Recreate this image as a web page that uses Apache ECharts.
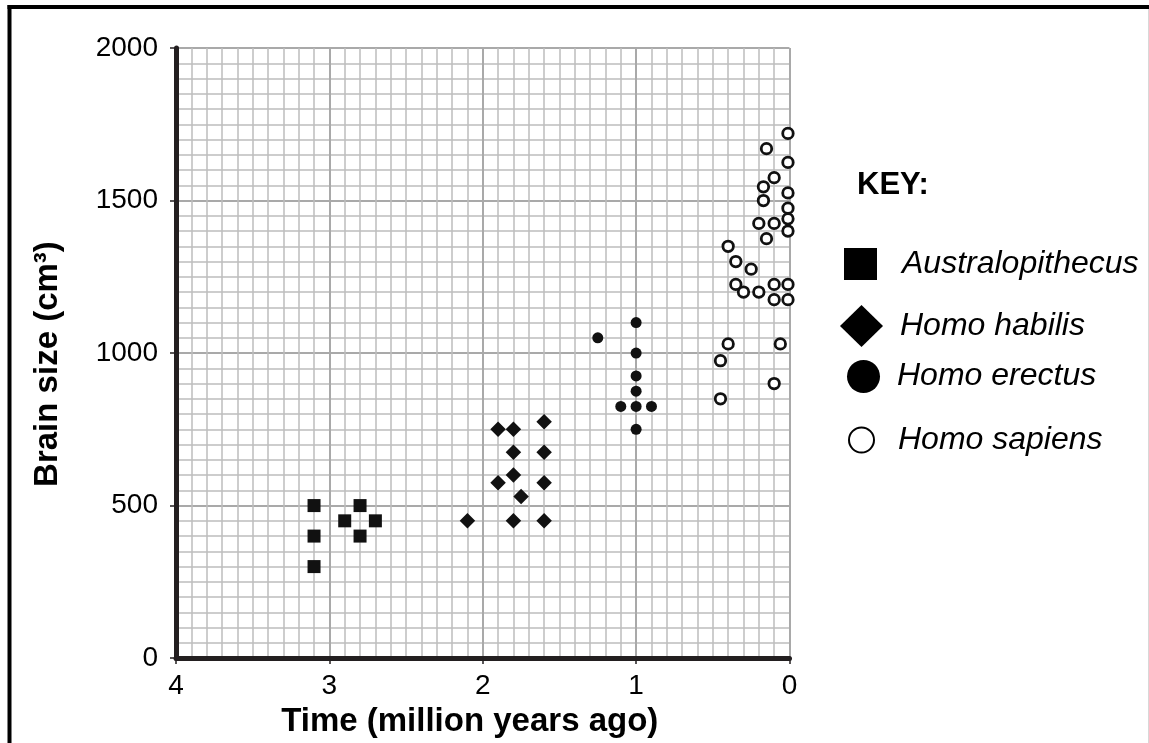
<!DOCTYPE html>
<html><head><meta charset="utf-8">
<script src="https://cdn.jsdelivr.net/npm/echarts@6/dist/echarts.min.js"></script>
<style>html,body{margin:0;padding:0;background:#fff}#c{width:1149px;height:743px}</style>
</head><body><div id="c"></div>
<script>
const seriesNames = ['Australopithecus', 'Homo habilis', 'Homo erectus', 'Homo sapiens'];
const xTickLabels = [4, 3, 2, 1, 0];
const yTickLabels = [0, 500, 1000, 1500, 2000];
// [time (million years ago), brain size (cm3)]
const australopithecus = [[3.1,500],[3.1,400],[3.1,300],[2.9,450],[2.8,500],[2.8,400],[2.7,450]];
const homoHabilis = [[2.1,450],[1.9,750],[1.8,750],[1.6,775],[1.8,675],[1.6,675],[1.8,600],[1.9,575],[1.6,575],[1.75,530],[1.8,450],[1.6,450]];
const homoErectus = [[1.25,1050],[1.0,1100],[1.0,1000],[1.0,925],[1.0,875],[1.1,825],[1.0,825],[0.9,825],[1.0,750]];
const homoSapiens = [[0.01,1720],[0.15,1670],[0.01,1625],[0.1,1575],[0.17,1545],[0.01,1525],[0.17,1500],[0.01,1475],[0.01,1440],[0.2,1425],[0.1,1425],[0.01,1400],[0.15,1375],[0.4,1350],[0.35,1300],[0.25,1275],[0.35,1225],[0.1,1225],[0.01,1225],[0.3,1200],[0.2,1200],[0.1,1175],[0.01,1175],[0.4,1030],[0.06,1030],[0.45,975],[0.1,900],[0.45,850]];

const FONT = 'Liberation Sans, Arial, Helvetica, sans-serif';
const chart = echarts.init(document.getElementById('c'), null, {renderer: 'canvas'});

function legendFor(name, icon, left, top, w, h, padLeft, itemStyle) {
  return {
    data: [name], icon: icon, left: left, top: top, padding: 0,
    itemWidth: w, itemHeight: h, selectedMode: false, orient: 'horizontal',
    itemStyle: itemStyle,
    textStyle: {fontFamily: FONT, fontStyle: 'italic', fontSize: 32, color: '#000', padding: [0, 0, 4, padLeft]}
  };
}

const option = {
  backgroundColor: '#fff',
  animation: false,
  title: {text: 'KEY:', left: 857, top: 170, padding: 0,
    textStyle: {fontFamily: FONT, fontWeight: 'bold', fontSize: 31, color: '#000'}},
  legend: [
    legendFor(seriesNames[0], 'rect', 844, 248, 33, 32, 20, {color: '#000', borderWidth: 0}),
    legendFor(seriesNames[1], 'diamond', 840, 305, 43, 42, 12, {color: '#000', borderWidth: 0}),
    legendFor(seriesNames[2], 'circle', 847, 360, 33, 34, 12, {color: '#000', borderWidth: 0}),
    legendFor(seriesNames[3], 'circle', 848, 424, 25, 27, 19, {color: '#fff', borderColor: '#000', borderWidth: 2})
  ],
  grid: {left: 176, right: 359.5, top: 48, bottom: 80, containLabel: false},
  xAxis: {
    type: 'value', inverse: true, min: 0, max: 4, interval: 1,
    name: 'Time (million years ago)', nameLocation: 'middle', nameGap: 36,
    nameTextStyle: {fontFamily: FONT, fontWeight: 'bold', fontSize: 33, color: '#000', padding: [0, 26, 0, 0]},
    axisLine: {show: true, onZero: false, lineStyle: {color: '#231f20', width: 5}},
    axisTick: {show: true, length: 6, inside: false, lineStyle: {color: '#231f20', width: 1.5}},
    axisLabel: {fontFamily: FONT, fontSize: 28, color: '#000', margin: 14,
      formatter: v => xTickLabels.includes(v) ? String(v) : ''},
    splitLine: {show: true, lineStyle: {color: '#a9a9a9', width: 2}},
    minorTick: {show: false, splitNumber: 10},
    minorSplitLine: {show: true, lineStyle: {color: '#bdbdbd', width: 1.5}}
  },
  yAxis: {
    type: 'value', min: 0, max: 2000, interval: 500,
    name: 'Brain size (cm³)', nameLocation: 'middle', nameGap: 112,
    nameTextStyle: {fontFamily: FONT, fontWeight: 'bold', fontSize: 33, color: '#000', padding: [0, 22, 0, 0]},
    axisLine: {show: true, onZero: false, lineStyle: {color: '#231f20', width: 5}},
    axisTick: {show: true, length: 6, inside: false, lineStyle: {color: '#231f20', width: 1.5}},
    axisLabel: {fontFamily: FONT, fontSize: 28, color: '#000', margin: 18, padding: [4, 0, 0, 0],
      formatter: v => yTickLabels.includes(v) ? String(v) : ''},
    splitLine: {show: true, lineStyle: {color: '#a9a9a9', width: 2}},
    minorTick: {show: false, splitNumber: 10},
    minorSplitLine: {show: true, lineStyle: {color: '#bdbdbd', width: 1.5}}
  },
  graphic: [
    {type: 'line', silent: true, z: 100, shape: {x1: 7.5, y1: 7, x2: 1149, y2: 7}, style: {stroke: '#000', lineWidth: 4}},
    {type: 'line', silent: true, z: 100, shape: {x1: 9.5, y1: 5, x2: 9.5, y2: 743}, style: {stroke: '#000', lineWidth: 4}},
    {type: 'line', silent: true, z: 100, shape: {x1: 1148.5, y1: 9, x2: 1148.5, y2: 743}, style: {stroke: '#d8d8d8', lineWidth: 1}}
  ],
  series: [
    {name: seriesNames[0], type: 'scatter', data: australopithecus, symbol: 'rect', symbolSize: 13,
      itemStyle: {color: '#111', opacity: 1}},
    {name: seriesNames[1], type: 'scatter', data: homoHabilis, symbol: 'diamond', symbolSize: 15.5,
      itemStyle: {color: '#111', opacity: 1}},
    {name: seriesNames[2], type: 'scatter', data: homoErectus, symbol: 'circle', symbolSize: 11,
      itemStyle: {color: '#111', opacity: 1}},
    {name: seriesNames[3], type: 'scatter', data: homoSapiens, symbol: 'circle', symbolSize: 10.5,
      itemStyle: {color: '#fff', borderColor: '#111', borderWidth: 2.8, opacity: 1}}
  ]
};
chart.setOption(option);
</script></body></html>
